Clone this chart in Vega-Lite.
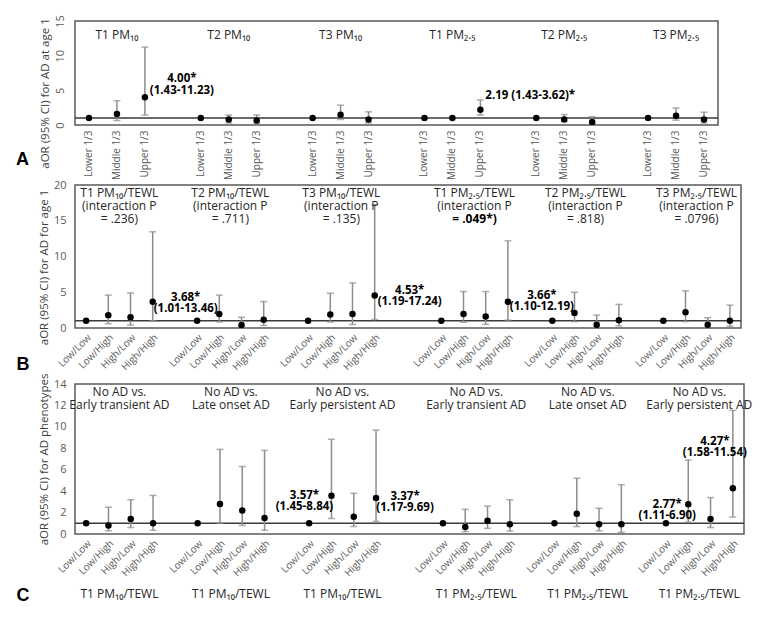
{
"$schema": "https://vega.github.io/schema/vega-lite/v6.json",
"padding": {"left": 15, "top": 13, "right": 5, "bottom": 2},
"spacing": -3,
"config": {
  "view": {"stroke": "#595959", "strokeWidth": 1.5},
  "font": "Open Sans",
  "axis": {"grid": false, "ticks": false, "domain": false, "labelOverlap": false, "labelColor": "#595959", "titleColor": "#404040", "titleFontWeight": "normal", "titleFontSize": 11.5, "labelFontSize": 11},
  "axisY": {"labelOverlap": false, "labelBound": false, "labelFlush": false, "labelSeparation": 0}
},
"datasets": {
  "A": [
    {"key": "T1PM10|Lower 1/3", "or": 1},
    {"key": "T1PM10|Middle 1/3", "or": 1.6, "lo": 0.64, "hi": 3.5},
    {"key": "T1PM10|Upper 1/3", "or": 4.0, "lo": 1.43, "hi": 11.23, "note": "4.00*\n(1.43-11.23)"},
    {"key": "T2PM10|Lower 1/3", "or": 1},
    {"key": "T2PM10|Middle 1/3", "or": 0.8, "lo": 0.3, "hi": 1.43},
    {"key": "T2PM10|Upper 1/3", "or": 0.64, "lo": 0.2, "hi": 1.43},
    {"key": "T3PM10|Lower 1/3", "or": 1},
    {"key": "T3PM10|Middle 1/3", "or": 1.48, "lo": 0.8, "hi": 2.86},
    {"key": "T3PM10|Upper 1/3", "or": 0.8, "lo": 0.3, "hi": 1.9},
    {"key": "T1PM25|Lower 1/3", "or": 1},
    {"key": "T1PM25|Middle 1/3", "or": 1},
    {"key": "T1PM25|Upper 1/3", "or": 2.19, "lo": 1.43, "hi": 3.62, "note": "2.19 (1.43-3.62)*"},
    {"key": "T2PM25|Lower 1/3", "or": 1},
    {"key": "T2PM25|Middle 1/3", "or": 0.8, "lo": 0.5, "hi": 1.5},
    {"key": "T2PM25|Upper 1/3", "or": 0.45, "lo": 0.2, "hi": 1.2},
    {"key": "T3PM25|Lower 1/3", "or": 1},
    {"key": "T3PM25|Middle 1/3", "or": 1.35, "lo": 0.7, "hi": 2.45},
    {"key": "T3PM25|Upper 1/3", "or": 0.8, "lo": 0.3, "hi": 1.85}
  ],
  "Atitles": [
    {"key": "T1PM10|Middle 1/3", "t": "T1 PM₁₀"},
    {"key": "T2PM10|Middle 1/3", "t": "T2 PM₁₀"},
    {"key": "T3PM10|Middle 1/3", "t": "T3 PM₁₀"},
    {"key": "T1PM25|Middle 1/3", "t": "T1 PM₂.₅"},
    {"key": "T2PM25|Middle 1/3", "t": "T2 PM₂.₅"},
    {"key": "T3PM25|Middle 1/3", "t": "T3 PM₂.₅"}
  ],
  "B": [
    {"key": "T1PM10|Low/Low", "or": 1},
    {"key": "T1PM10|Low/High", "or": 1.8, "lo": 0.6, "hi": 4.6},
    {"key": "T1PM10|High/Low", "or": 1.5, "lo": 0.4, "hi": 4.9},
    {"key": "T1PM10|High/High", "or": 3.68, "lo": 1.01, "hi": 13.46, "note": "3.68*\n(1.01-13.46)"},
    {"key": "T2PM10|Low/Low", "or": 1},
    {"key": "T2PM10|Low/High", "or": 1.95, "lo": 0.85, "hi": 4.6},
    {"key": "T2PM10|High/Low", "or": 0.43, "lo": 0.15, "hi": 1.5},
    {"key": "T2PM10|High/High", "or": 1.15, "lo": 0.35, "hi": 3.7},
    {"key": "T3PM10|Low/Low", "or": 1},
    {"key": "T3PM10|Low/High", "or": 1.9, "lo": 0.85, "hi": 4.85},
    {"key": "T3PM10|High/Low", "or": 1.95, "lo": 0.5, "hi": 6.3},
    {"key": "T3PM10|High/High", "or": 4.53, "lo": 1.19, "hi": 17.24, "note": "4.53*\n(1.19-17.24)"},
    {"key": "T1PM25|Low/Low", "or": 1},
    {"key": "T1PM25|Low/High", "or": 1.95, "lo": 0.8, "hi": 5.1},
    {"key": "T1PM25|High/Low", "or": 1.6, "lo": 0.5, "hi": 5.1},
    {"key": "T1PM25|High/High", "or": 3.66, "lo": 1.1, "hi": 12.19, "note": "3.66*\n(1.10-12.19)"},
    {"key": "T2PM25|Low/Low", "or": 1},
    {"key": "T2PM25|Low/High", "or": 2.1, "lo": 0.9, "hi": 5.0},
    {"key": "T2PM25|High/Low", "or": 0.47, "lo": 0.15, "hi": 1.8},
    {"key": "T2PM25|High/High", "or": 1.07, "lo": 0.3, "hi": 3.3},
    {"key": "T3PM25|Low/Low", "or": 1},
    {"key": "T3PM25|Low/High", "or": 2.2, "lo": 0.9, "hi": 5.2},
    {"key": "T3PM25|High/Low", "or": 0.47, "lo": 0.15, "hi": 1.44},
    {"key": "T3PM25|High/High", "or": 1.0, "lo": 0.25, "hi": 3.2}
  ],
  "Btitles": [
    {"key": "T1PM10|Low/High", "t": "T1 PM₁₀/TEWL\n(interaction P\n= .236)", "bold": false},
    {"key": "T2PM10|Low/High", "t": "T2 PM₁₀/TEWL\n(interaction P\n= .711)", "bold": false},
    {"key": "T3PM10|Low/High", "t": "T3 PM₁₀/TEWL\n(interaction P\n= .135)", "bold": false},
    {"key": "T1PM25|Low/High", "t": "T1 PM₂.₅/TEWL\n(interaction P", "bold": false},
    {"key": "T1PM25|Low/High", "t": "= .049*)", "bold": true},
    {"key": "T2PM25|Low/High", "t": "T2 PM₂.₅/TEWL\n(interaction P\n= .818)", "bold": false},
    {"key": "T3PM25|Low/High", "t": "T3 PM₂.₅/TEWL\n(interaction P\n= .0796)", "bold": false}
  ],
  "C": [
    {"key": "P10T|Low/Low", "or": 1},
    {"key": "P10T|Low/High", "or": 0.8, "lo": 0.3, "hi": 2.5},
    {"key": "P10T|High/Low", "or": 1.4, "lo": 0.6, "hi": 3.2},
    {"key": "P10T|High/High", "or": 1.0, "lo": 0.35, "hi": 3.6},
    {"key": "P10L|Low/Low", "or": 1},
    {"key": "P10L|Low/High", "or": 2.8, "lo": 1.0, "hi": 7.9},
    {"key": "P10L|High/Low", "or": 2.2, "lo": 0.8, "hi": 6.3},
    {"key": "P10L|High/High", "or": 1.5, "lo": 0.35, "hi": 7.8},
    {"key": "P10P|Low/Low", "or": 1},
    {"key": "P10P|Low/High", "or": 3.57, "lo": 1.45, "hi": 8.84, "note": "3.57*\n(1.45-8.84)"},
    {"key": "P10P|High/Low", "or": 1.6, "lo": 0.7, "hi": 3.8},
    {"key": "P10P|High/High", "or": 3.37, "lo": 1.17, "hi": 9.69, "note": "3.37*\n(1.17-9.69)"},
    {"key": "P25T|Low/Low", "or": 1},
    {"key": "P25T|Low/High", "or": 0.66, "lo": 0.22, "hi": 2.3},
    {"key": "P25T|High/Low", "or": 1.23, "lo": 0.53, "hi": 2.6},
    {"key": "P25T|High/High", "or": 0.9, "lo": 0.28, "hi": 3.2},
    {"key": "P25L|Low/Low", "or": 1},
    {"key": "P25L|Low/High", "or": 1.9, "lo": 0.7, "hi": 5.2},
    {"key": "P25L|High/Low", "or": 0.9, "lo": 0.3, "hi": 2.4},
    {"key": "P25L|High/High", "or": 0.9, "lo": 0.15, "hi": 4.6},
    {"key": "P25P|Low/Low", "or": 1},
    {"key": "P25P|Low/High", "or": 2.77, "lo": 1.11, "hi": 6.9, "note": "2.77*\n(1.11-6.90)"},
    {"key": "P25P|High/Low", "or": 1.4, "lo": 0.6, "hi": 3.4},
    {"key": "P25P|High/High", "or": 4.27, "lo": 1.58, "hi": 11.54, "note": "4.27*\n(1.58-11.54)"}
  ],
  "Ctitles": [
    {"key": "P10T|Low/High", "t": "No AD vs.\nEarly transient AD"},
    {"key": "P10L|Low/High", "t": "No AD vs.\nLate onset AD"},
    {"key": "P10P|Low/High", "t": "No AD vs.\nEarly persistent AD"},
    {"key": "P25T|Low/High", "t": "No AD vs.\nEarly transient AD"},
    {"key": "P25L|Low/High", "t": "No AD vs.\nLate onset AD"},
    {"key": "P25P|Low/High", "t": "No AD vs.\nEarly persistent AD"}
  ]
},
"vconcat": [
  {
    "width": 643, "height": 104,
    "title": {"text": "A", "orient": "bottom", "anchor": "start", "frame": "bounds", "offset": -29, "dx": -23, "font": "Liberation Sans", "fontSize": 18, "fontWeight": "bold", "color": "#000000"},
    "data": {"name": "A"},
    "resolve": {"axis": {"x": "independent"}},
    "layer": [
      {"data": {"values": [{}]}, "mark": {"type": "rule", "color": "#3a3a3a", "strokeWidth": 1.5}, "encoding": {"y": {"datum": 1}}},
      {"transform": [{"filter": "isValid(datum.lo)"}], "mark": {"type": "rule", "color": "#8c8c8c", "strokeWidth": 1.5},
       "encoding": {"x": {"field": "key", "type": "nominal", "axis": null}, "y": {"field": "lo", "type": "quantitative"}, "y2": {"field": "hi"}}},
      {"transform": [{"filter": "isValid(datum.lo)"}], "mark": {"type": "tick", "color": "#8c8c8c", "size": 7, "thickness": 1.5},
       "encoding": {"x": {"field": "key", "type": "nominal", "axis": null}, "y": {"field": "lo", "type": "quantitative"}}},
      {"transform": [{"filter": "isValid(datum.hi)"}], "mark": {"type": "tick", "color": "#8c8c8c", "size": 7, "thickness": 1.5},
       "encoding": {"x": {"field": "key", "type": "nominal", "axis": null}, "y": {"field": "hi", "type": "quantitative"}}},
      {"mark": {"type": "circle", "size": 42, "color": "#000000", "opacity": 1},
       "encoding": {
         "x": {"field": "key", "type": "nominal", "scale": {"type": "band", "paddingInner": 0, "paddingOuter": 0, "domain": ["T1PM10|Lower 1/3","T1PM10|Middle 1/3","T1PM10|Upper 1/3","gA1","T2PM10|Lower 1/3","T2PM10|Middle 1/3","T2PM10|Upper 1/3","gA2","T3PM10|Lower 1/3","T3PM10|Middle 1/3","T3PM10|Upper 1/3","gA3","T1PM25|Lower 1/3","T1PM25|Middle 1/3","T1PM25|Upper 1/3","gA4","T2PM25|Lower 1/3","T2PM25|Middle 1/3","T2PM25|Upper 1/3","gA5","T3PM25|Lower 1/3","T3PM25|Middle 1/3","T3PM25|Upper 1/3"]},
               "axis": {"orient": "bottom", "title": null, "labelAngle": -90, "labelPadding": 5, "labelFontSize": 10, "labelOverlap": false, "labelExpr": "indexof(datum.value, '|') < 0 ? '' : slice(datum.value, indexof(datum.value, '|') + 1)"}},
         "y": {"field": "or", "type": "quantitative", "scale": {"domain": [0, 15], "nice": false},
               "axis": {"title": "aOR (95% CI) for AD at age 1", "tickCount": 3, "labelOverlap": false, "labelAngle": -90, "labelPadding": 10, "titleY": 72}}
       }},
      {"transform": [{"filter": "datum.key == 'T1PM10|Upper 1/3'"}], "mark": {"type": "text", "align": "center", "baseline": "middle", "dx": 37, "dy": -18, "fontSize": 11.5, "fontWeight": "bold", "color": "#000000", "lineBreak": "\n", "lineHeight": 12},
       "encoding": {"x": {"field": "key", "type": "nominal", "axis": null}, "y": {"field": "or", "type": "quantitative"}, "text": {"field": "note"}}},
      {"transform": [{"filter": "datum.key == 'T1PM25|Upper 1/3'"}], "mark": {"type": "text", "align": "left", "baseline": "middle", "dx": 5, "dy": -14, "fontSize": 11.5, "fontWeight": "bold", "color": "#000000"},
       "encoding": {"x": {"field": "key", "type": "nominal", "axis": null}, "y": {"field": "or", "type": "quantitative"}, "text": {"field": "note"}}},
      {"data": {"name": "Atitles"}, "mark": {"type": "text", "align": "center", "baseline": "middle", "dy": 14, "fontSize": 12, "color": "#262626"},
       "encoding": {"x": {"field": "key", "type": "nominal", "axis": null}, "y": {"datum": 15}, "text": {"field": "t"}}}
    ]
  },
  {
    "width": 666, "height": 143,
    "title": {"text": "B", "orient": "bottom", "anchor": "start", "frame": "bounds", "offset": -16, "dx": -22, "font": "Liberation Sans", "fontSize": 18, "fontWeight": "bold", "color": "#000000"},
    "data": {"name": "B"},
    "resolve": {"axis": {"x": "independent"}},
    "layer": [
      {"data": {"values": [{}]}, "mark": {"type": "rule", "color": "#3a3a3a", "strokeWidth": 1.5}, "encoding": {"y": {"datum": 1}}},
      {"transform": [{"filter": "isValid(datum.lo)"}], "mark": {"type": "rule", "color": "#8c8c8c", "strokeWidth": 1.5},
       "encoding": {"x": {"field": "key", "type": "nominal", "axis": null}, "y": {"field": "lo", "type": "quantitative"}, "y2": {"field": "hi"}}},
      {"transform": [{"filter": "isValid(datum.lo)"}], "mark": {"type": "tick", "color": "#8c8c8c", "size": 7, "thickness": 1.5},
       "encoding": {"x": {"field": "key", "type": "nominal", "axis": null}, "y": {"field": "lo", "type": "quantitative"}}},
      {"transform": [{"filter": "isValid(datum.hi)"}], "mark": {"type": "tick", "color": "#8c8c8c", "size": 7, "thickness": 1.5},
       "encoding": {"x": {"field": "key", "type": "nominal", "axis": null}, "y": {"field": "hi", "type": "quantitative"}}},
      {"mark": {"type": "circle", "size": 42, "color": "#000000", "opacity": 1},
       "encoding": {
         "x": {"field": "key", "type": "nominal", "scale": {"type": "band", "paddingInner": 0, "paddingOuter": 0, "domain": ["T1PM10|Low/Low","T1PM10|Low/High","T1PM10|High/Low","T1PM10|High/High","gB1","T2PM10|Low/Low","T2PM10|Low/High","T2PM10|High/Low","T2PM10|High/High","gB2","T3PM10|Low/Low","T3PM10|Low/High","T3PM10|High/Low","T3PM10|High/High","gB3","gB4","T1PM25|Low/Low","T1PM25|Low/High","T1PM25|High/Low","T1PM25|High/High","gB5","T2PM25|Low/Low","T2PM25|Low/High","T2PM25|High/Low","T2PM25|High/High","gB6","T3PM25|Low/Low","T3PM25|Low/High","T3PM25|High/Low","T3PM25|High/High"]},
               "axis": {"orient": "bottom", "title": null, "labelAngle": -45, "labelPadding": 4, "labelFontSize": 10, "labelOverlap": false, "labelExpr": "indexof(datum.value, '|') < 0 ? '' : slice(datum.value, indexof(datum.value, '|') + 1)"}},
         "y": {"field": "or", "type": "quantitative", "scale": {"domain": [0, 20], "nice": false},
               "axis": {"title": "aOR (95% CI) for AD for age 1", "tickCount": 4, "labelOverlap": false, "labelPadding": 9, "titleY": 82}}
       }},
      {"transform": [{"filter": "datum.key == 'T1PM10|High/High'"}], "mark": {"type": "text", "align": "center", "baseline": "middle", "dx": 33, "dy": -4, "fontSize": 11.5, "fontWeight": "bold", "color": "#000000", "lineBreak": "\n", "lineHeight": 11},
       "encoding": {"x": {"field": "key", "type": "nominal", "axis": null}, "y": {"field": "or", "type": "quantitative"}, "text": {"field": "note"}}},
      {"transform": [{"filter": "datum.key == 'T3PM10|High/High'"}], "mark": {"type": "text", "align": "center", "baseline": "middle", "dx": 35, "dy": -4.5, "fontSize": 11.5, "fontWeight": "bold", "color": "#000000", "lineBreak": "\n", "lineHeight": 11},
       "encoding": {"x": {"field": "key", "type": "nominal", "axis": null}, "y": {"field": "or", "type": "quantitative"}, "text": {"field": "note"}}},
      {"transform": [{"filter": "datum.key == 'T1PM25|High/High'"}], "mark": {"type": "text", "align": "center", "baseline": "middle", "dx": 34, "dy": -6, "fontSize": 11.5, "fontWeight": "bold", "color": "#000000", "lineBreak": "\n", "lineHeight": 11},
       "encoding": {"x": {"field": "key", "type": "nominal", "axis": null}, "y": {"field": "or", "type": "quantitative"}, "text": {"field": "note"}}},
      {"data": {"name": "Btitles"}, "transform": [{"filter": "!datum.bold"}], "mark": {"type": "text", "align": "center", "baseline": "top", "dx": 11, "dy": 3, "fontSize": 12, "color": "#262626", "lineBreak": "\n", "lineHeight": 13},
       "encoding": {"x": {"field": "key", "type": "nominal", "axis": null}, "y": {"datum": 20}, "text": {"field": "t"}}},
      {"data": {"name": "Btitles"}, "transform": [{"filter": "datum.bold"}], "mark": {"type": "text", "align": "center", "baseline": "top", "dx": 11, "dy": 29, "fontSize": 12, "fontWeight": "bold", "color": "#000000"},
       "encoding": {"x": {"field": "key", "type": "nominal", "axis": null}, "y": {"datum": 20}, "text": {"field": "t"}}}
    ]
  },
  {
    "width": 669, "height": 150,
    "title": {"text": "C", "orient": "bottom", "anchor": "start", "frame": "bounds", "offset": -12, "dx": -22, "font": "Liberation Sans", "fontSize": 18, "fontWeight": "bold", "color": "#000000"},
    "data": {"name": "C"},
    "resolve": {"axis": {"x": "independent"}},
    "layer": [
      {"data": {"values": [{}]}, "mark": {"type": "rule", "color": "#3a3a3a", "strokeWidth": 1.5}, "encoding": {"y": {"datum": 1}}},
      {"transform": [{"filter": "isValid(datum.lo)"}], "mark": {"type": "rule", "color": "#8c8c8c", "strokeWidth": 1.5},
       "encoding": {"x": {"field": "key", "type": "nominal", "axis": null}, "y": {"field": "lo", "type": "quantitative"}, "y2": {"field": "hi"}}},
      {"transform": [{"filter": "isValid(datum.lo)"}], "mark": {"type": "tick", "color": "#8c8c8c", "size": 7, "thickness": 1.5},
       "encoding": {"x": {"field": "key", "type": "nominal", "axis": {"orient": "bottom", "title": null, "labelAngle": 0, "offset": 52, "labelOffset": 11, "labelFontSize": 12, "labelColor": "#262626", "labelOverlap": false, "labelBound": false, "labelExpr": "indexof(datum.value, 'Low/High') < 0 ? '' : (indexof(datum.value, 'P10') == 0 ? 'T1 PM₁₀/TEWL' : 'T1 PM₂.₅/TEWL')"}}, "y": {"field": "lo", "type": "quantitative"}}},
      {"transform": [{"filter": "isValid(datum.hi)"}], "mark": {"type": "tick", "color": "#8c8c8c", "size": 7, "thickness": 1.5},
       "encoding": {"x": {"field": "key", "type": "nominal", "axis": null}, "y": {"field": "hi", "type": "quantitative"}}},
      {"mark": {"type": "circle", "size": 42, "color": "#000000", "opacity": 1},
       "encoding": {
         "x": {"field": "key", "type": "nominal", "scale": {"type": "band", "paddingInner": 0, "paddingOuter": 0, "domain": ["P10T|Low/Low","P10T|Low/High","P10T|High/Low","P10T|High/High","gC1","P10L|Low/Low","P10L|Low/High","P10L|High/Low","P10L|High/High","gC2","P10P|Low/Low","P10P|Low/High","P10P|High/Low","P10P|High/High","gC3","gC4","P25T|Low/Low","P25T|Low/High","P25T|High/Low","P25T|High/High","gC5","P25L|Low/Low","P25L|Low/High","P25L|High/Low","P25L|High/High","gC6","P25P|Low/Low","P25P|Low/High","P25P|High/Low","P25P|High/High"]},
               "axis": {"orient": "bottom", "title": null, "labelAngle": -45, "labelPadding": 4, "labelFontSize": 10, "labelOverlap": false, "labelExpr": "indexof(datum.value, '|') < 0 ? '' : slice(datum.value, indexof(datum.value, '|') + 1)"}},
         "y": {"field": "or", "type": "quantitative", "scale": {"domain": [0, 14], "nice": false},
               "axis": {"title": "aOR (95% CI) for AD phenotypes", "tickCount": 7, "labelOverlap": false, "labelPadding": 9}}
       }},
      {"transform": [{"filter": "datum.key == 'P10P|Low/High'"}], "mark": {"type": "text", "align": "center", "baseline": "middle", "dx": -27, "dy": 0, "fontSize": 11.5, "fontWeight": "bold", "color": "#000000", "lineBreak": "\n", "lineHeight": 11},
       "encoding": {"x": {"field": "key", "type": "nominal", "axis": null}, "y": {"field": "or", "type": "quantitative"}, "text": {"field": "note"}}},
      {"transform": [{"filter": "datum.key == 'P10P|High/High'"}], "mark": {"type": "text", "align": "center", "baseline": "middle", "dx": 29, "dy": -1, "fontSize": 11.5, "fontWeight": "bold", "color": "#000000", "lineBreak": "\n", "lineHeight": 11},
       "encoding": {"x": {"field": "key", "type": "nominal", "axis": null}, "y": {"field": "or", "type": "quantitative"}, "text": {"field": "note"}}},
      {"transform": [{"filter": "datum.key == 'P25P|Low/High'"}], "mark": {"type": "text", "align": "center", "baseline": "middle", "dx": -21, "dy": 1, "fontSize": 11.5, "fontWeight": "bold", "color": "#000000", "lineBreak": "\n", "lineHeight": 11},
       "encoding": {"x": {"field": "key", "type": "nominal", "axis": null}, "y": {"field": "or", "type": "quantitative"}, "text": {"field": "note"}}},
      {"transform": [{"filter": "datum.key == 'P25P|High/High'"}], "mark": {"type": "text", "align": "center", "baseline": "middle", "dx": -18, "dy": -46, "fontSize": 11.5, "fontWeight": "bold", "color": "#000000", "lineBreak": "\n", "lineHeight": 11},
       "encoding": {"x": {"field": "key", "type": "nominal", "axis": null}, "y": {"field": "or", "type": "quantitative"}, "text": {"field": "note"}}},
      {"data": {"name": "Ctitles"}, "mark": {"type": "text", "align": "center", "baseline": "top", "dx": 11, "dy": 3, "fontSize": 12, "color": "#262626", "lineBreak": "\n", "lineHeight": 13},
       "encoding": {"x": {"field": "key", "type": "nominal", "axis": null}, "y": {"datum": 14}, "text": {"field": "t"}}}
    ]
  }
]
}
